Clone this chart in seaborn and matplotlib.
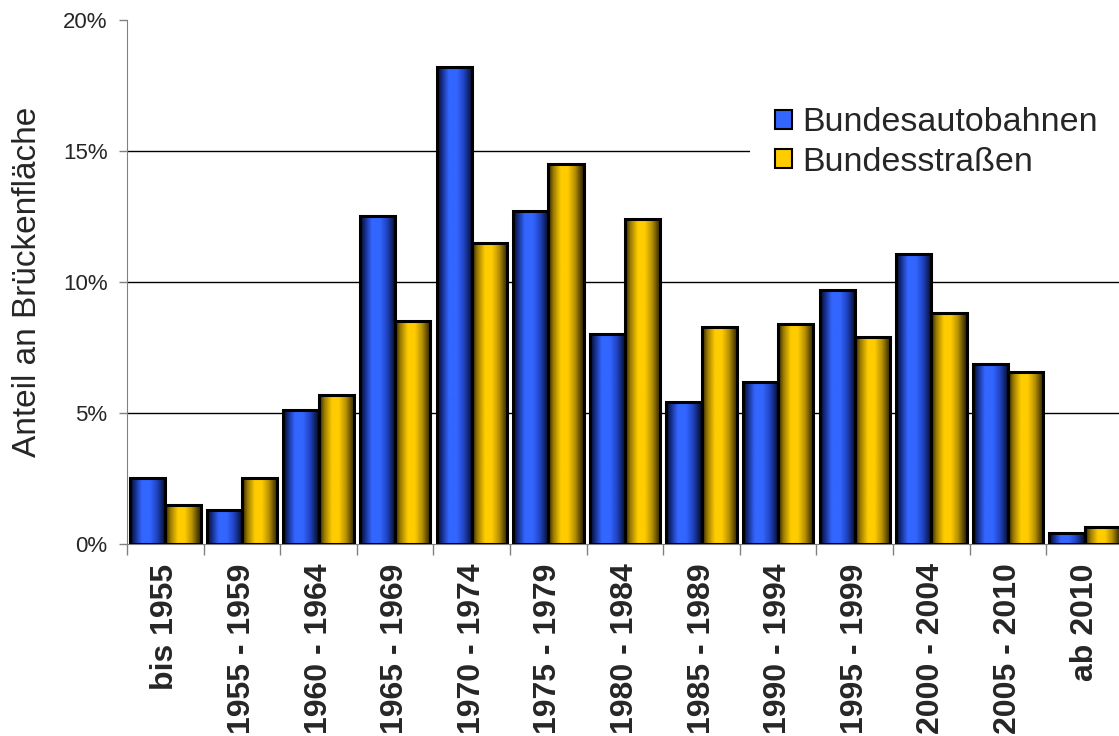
import numpy as np
import pandas as pd
import matplotlib
matplotlib.use("Agg")
import matplotlib.pyplot as plt
import seaborn as sns
from matplotlib.colors import LinearSegmentedColormap
from matplotlib.ticker import FuncFormatter, FixedLocator

zeitraum = ["bis 1955", "1955 - 1959", "1960 - 1964", "1965 - 1969", "1970 - 1974",
            "1975 - 1979", "1980 - 1984", "1985 - 1989", "1990 - 1994", "1995 - 1999",
            "2000 - 2004", "2005 - 2010", "ab 2010"]
autobahn = [2.5, 1.3, 5.1, 12.5, 18.2, 12.7, 8.0, 5.4, 6.2, 9.7, 11.05, 6.85, 0.43]
bundesstr = [1.5, 2.5, 5.7, 8.5, 11.5, 14.5, 12.4, 8.3, 8.4, 7.9, 8.8, 6.55, 0.63]
serien = ["Bundesautobahnen", "Bundesstraßen"]

df = pd.DataFrame({
    "Zeitraum": zeitraum * 2,
    "Anteil": autobahn + bundesstr,
    "Serie": [serien[0]] * len(zeitraum) + [serien[1]] * len(zeitraum),
})

sns.set_style("white")
plt.rcParams["font.family"] = ["Liberation Sans", "DejaVu Sans"]

farben = {serien[0]: "#3366ff", serien[1]: "#ffcc00"}
verlauf = {
    serien[0]: LinearSegmentedColormap.from_list("blau", [
        (0, "#03071a"), (0.15, "#16308e"), (0.33, "#3366ff"), (0.55, "#3366ff"),
        (0.75, "#1f44c4"), (0.9, "#0f2060"), (1, "#050a20")]),
    serien[1]: LinearSegmentedColormap.from_list("gold", [
        (0, "#241c00"), (0.15, "#9a7a00"), (0.36, "#ffcc00"), (0.55, "#ffcc00"),
        (0.75, "#b89200"), (0.9, "#5c4800"), (1, "#2a2000")]),
}

fig = plt.figure(figsize=(11.19, 7.36), dpi=100)
ax = fig.add_axes([0.1135, 0.2609, 0.89, 0.712])

sns.barplot(data=df, x="Zeitraum", y="Anteil", hue="Serie", palette=farben,
            width=0.92, saturation=1, edgecolor="black", linewidth=2.2,
            legend=False, ax=ax, zorder=3)

# gradient fill inside each bar (like the old office charts)
grad = np.linspace(0, 1, 256).reshape(1, -1)
for cont, name in zip(ax.containers, serien):
    for p in cont.patches:
        x0, y0 = p.get_x(), p.get_y()
        w, h = p.get_width(), p.get_height()
        im = ax.imshow(grad, extent=[x0, x0 + w, y0, y0 + h], aspect="auto",
                       cmap=verlauf[name], zorder=2.5, interpolation="bilinear")
        im.set_clip_path(p)
        p.set_facecolor("none")

ax.set_xlim(-0.5, 12.5)
ax.set_ylim(0, 20)
ax.set_yticks([0, 5, 10, 15, 20])
ax.yaxis.set_major_formatter(FuncFormatter(lambda v, pos: f"{v:.0f}%"))
for yv in [5, 10, 15]:
    ax.axhline(yv, color="black", lw=1.0, zorder=1)

ax.set_xlabel("")
ax.set_ylabel("Anteil an Brückenfläche", fontsize=24, labelpad=14)
ax.tick_params(axis="y", labelsize=16, length=6, width=1, color="#808080",
               direction="out", left=True, pad=8)
ax.tick_params(axis="x", which="major", length=0, labelsize=23, pad=14)
ax.xaxis.set_minor_locator(FixedLocator(np.arange(-0.5, 13, 1)))
ax.tick_params(axis="x", which="minor", length=8, width=1, color="#808080",
               direction="out", bottom=True)
for lab in ax.get_xticklabels():
    lab.set_rotation(90)
    lab.set_fontweight("bold")
    lab.set_va("top")

sns.despine(ax=ax, top=True, right=True)
ax.spines["left"].set_color("#808080")
ax.spines["bottom"].set_color("#808080")
ax.spines["left"].set_zorder(4)

handles = [plt.Rectangle((0, 0), 1, 1, facecolor=farben[s], edgecolor="black", lw=1.5)
           for s in serien]
leg = ax.legend(handles, serien, loc="upper left", bbox_to_anchor=(0.655, 0.912),
                bbox_transform=fig.transFigure, fontsize=24.5, frameon=True,
                facecolor="white", edgecolor="none", framealpha=1, fancybox=False,
                handlelength=0.5, handleheight=0.5, handletextpad=0.3,
                labelspacing=0.25, borderpad=0.75)
leg.set_zorder(5)

fig.savefig("out.png", dpi=100)
